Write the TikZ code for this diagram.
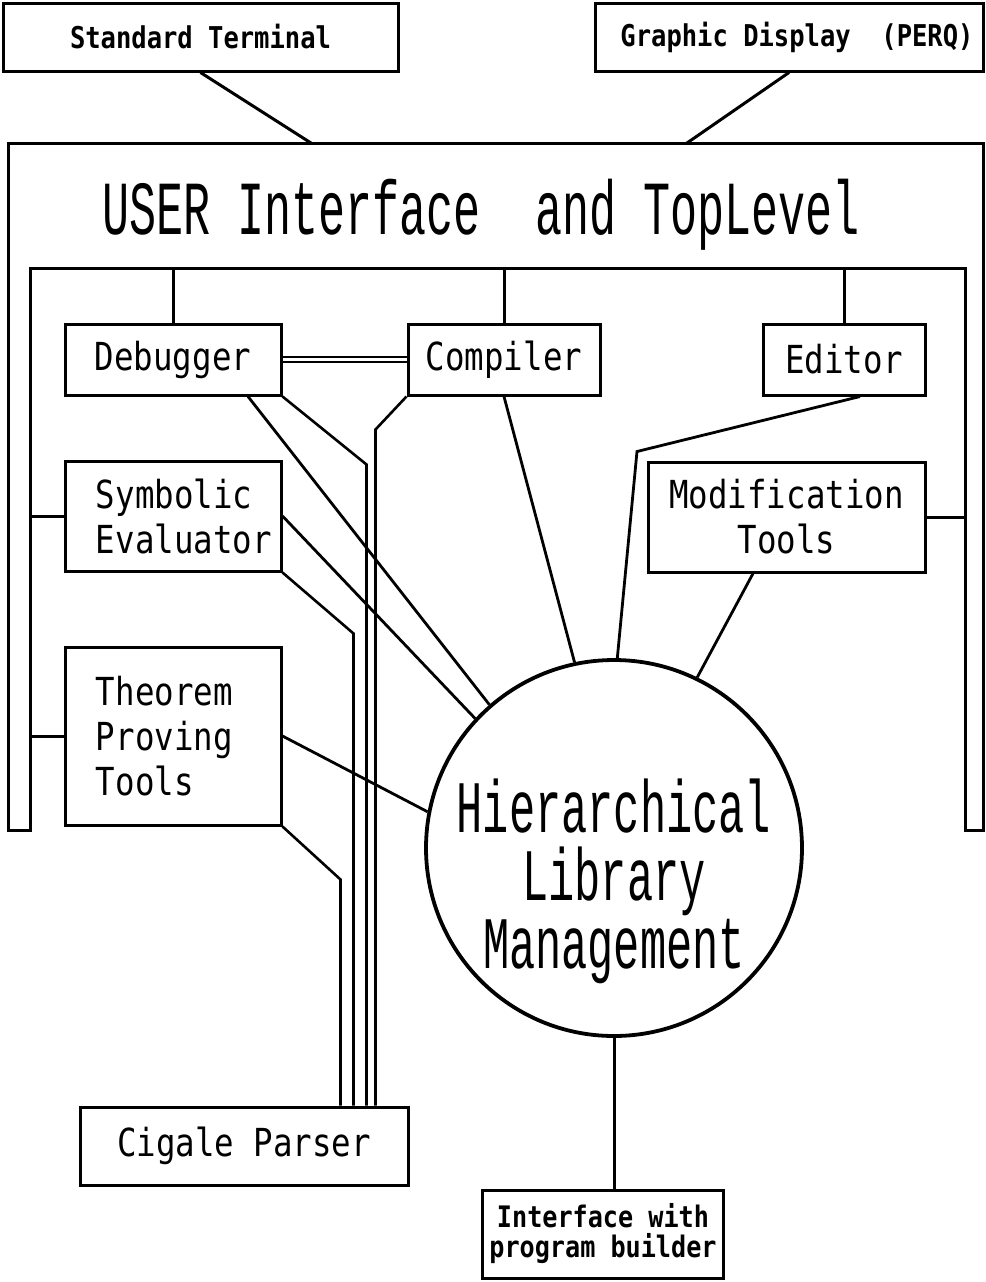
\documentclass[tikz,border=0pt]{standalone}
\usepackage{fontspec}
\usepackage{tikz}
\newfontfamily\plotfont[FakeStretch=0.84]{DejaVu Sans Mono}
\newfontfamily\headfont[FakeStretch=0.85]{DejaVu Sans Mono}
\newfontfamily\thinfont[FakeStretch=0.59]{Liberation Mono}

\begin{document}
\begin{tikzpicture}[x=0.5pt, y=-0.5pt, line width=1.5pt]
  % Define styles
  \tikzstyle{device} = [rectangle, draw, minimum height=34pt, font=\headfont\bfseries\fontsize{15pt}{17pt}\selectfont]
  \tikzstyle{tool} = [rectangle, draw, minimum height=35.5pt, font=\plotfont\fontsize{19.3pt}{22.5pt}\selectfont]
  \tikzstyle{tooltext} = [tool, align=left, text width=77pt, inner xsep=15.5pt]
  \tikzstyle{link} = [line width=1.4pt]
  \tikzstyle{bus} = [line width=1.3pt]

  \useasboundingbox (0,0) rectangle (986,1282);

  % Terminals
  \node[device, minimum width=197.5pt] (term) at (200.5,37) {Standard Terminal};
  \node[device, minimum width=194pt] (perq) at (789,37) {\hspace{8pt}Graphic Display~~(PERQ)};

  % User interface frame
  \draw (8,143) -- (983,143) -- (983,830) -- (965,830) -- (965,268) coordinate (fir)
    -- (30,268) coordinate (fil) -- (30,830) -- (8,830) -- cycle;
  \node[font=\thinfont\fontsize{38.2pt}{40pt}\selectfont] (top) at (481,215) {USER Interface~~and TopLevel};
  \coordinate (tin) at (311,143);
  \coordinate (pin) at (687,143);
  \draw (term.south) -- (tin);
  \draw (perq.south) -- (pin);

  % Tools
  \node[tool, minimum width=108pt] (dbg) at (173,359.5) {Debugger};
  \node[tool, minimum width=96pt] (comp) at (504,359.5) {Compiler};
  \node[tool, minimum width=81pt] (edit) at (844,359.5) {Editor};
  \node[tooltext, minimum height=55pt] (symb) at (173,516) {Symbolic\\Evaluator};
  \node[tool, minimum width=138.5pt, minimum height=55pt, align=center] (modif) at (786.5,517) {Modification\\Tools};
  \node[tooltext, minimum height=89pt] (thm) at (173,736) {Theorem\\Proving\\Tools};

  % Library
  \node[circle, draw, line width=1.9pt, minimum size=188pt, inner sep=0pt,
    label={[yshift=-16.5pt, align=center, font=\thinfont\fontsize{37pt}{34pt}\selectfont]center:{Hierarchical\\Library\\Management}}] (hlm) at (614,848) {};

  % Parser and program builder
  \node[tool, minimum width=164pt, minimum height=39pt] (cig) at (244,1146) {Cigale Parser};
  \node[device, minimum width=119pt, minimum height=44pt, align=center,
    font=\headfont\bfseries\fontsize{14.8pt}{15pt}\selectfont] (ifc) at (603,1234) {Interface with\\program builder};

  % Ties to the frame
  \draw (dbg.north) -- (dbg.north |- fil);
  \draw (comp.north) -- (comp.north |- fil);
  \draw (edit.north) -- (edit.north |- fil);
  \draw (symb.west) -- (symb.west -| fil);
  \draw (thm.west) -- (thm.west -| fil);
  \draw (modif.east) -- (modif.east -| fir);

  % Debugger to compiler
  \draw[double, double distance=1.5pt, line width=1pt] (dbg.east) -- (comp.west);

  % Lines to the library
  \draw[link] ([xshift=37.5pt]dbg.south) -- (hlm.131.5);
  \draw[link] (symb.east) -- (hlm.137.8);
  \draw[link] (thm.east) -- (hlm.169.4);
  \draw[link] (comp.south) -- (hlm.102.6);
  \draw[link] ([xshift=8pt]edit.south) -- ++(-223,55) -- (hlm.89.7);
  \draw[link] ([xshift=-16.75pt]modif.south) -- (hlm.64.5);
  \draw (hlm.south) -- (hlm.south |- ifc.north);

  % Lines down to the parser
  \draw[bus] (dbg.south east) -- ++(84,68) coordinate (b1) -- (b1 |- cig.north);
  \draw[bus] (comp.south west) -- ++(-31,33) coordinate (b2) -- (b2 |- cig.north);
  \draw[bus] (symb.south east) -- ++(71,61) coordinate (b3) -- (b3 |- cig.north);
  \draw[bus] (thm.south east) -- ++(58,53) coordinate (b4) -- (b4 |- cig.north);
\end{tikzpicture}
\end{document}
